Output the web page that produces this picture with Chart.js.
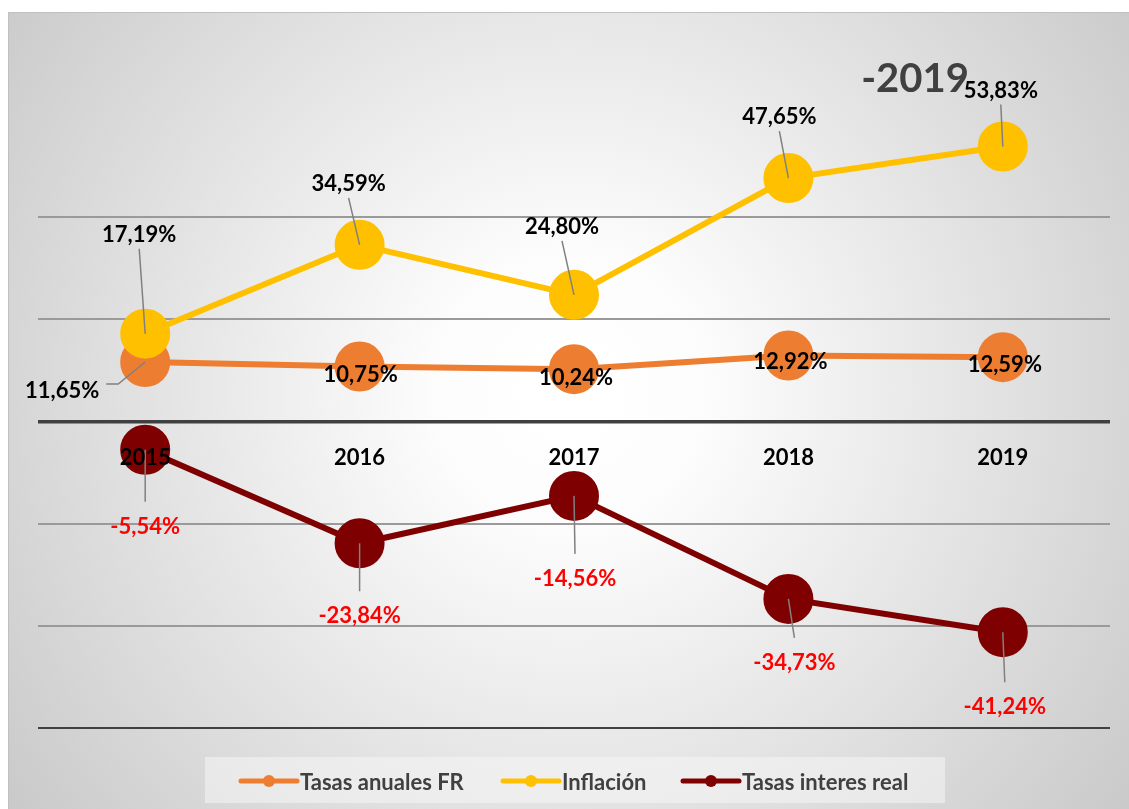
<!DOCTYPE html>
<html lang="es">
<head>
    <meta charset="UTF-8">
    <script src="https://cdn.jsdelivr.net/npm/chart.js"></script>
    <title>Tasas 2019</title>
    <style>
        body { margin: 0; background: #fff; }
        #wrap { width: 1129px; height: 809px; }
    </style>
</head>
<body>
    <div id="wrap">
        <canvas id="lineChart" width="1129" height="809"></canvas>
    </div>

    <script>
        // Datos
        const years = ['2015', '2016', '2017', '2018', '2019'];
        const tasasFR = [11.65, 10.75, 10.24, 12.92, 12.59];
        const inflacion = [17.19, 34.59, 24.80, 47.65, 53.83];
        const tasasReal = [-5.54, -23.84, -14.56, -34.73, -41.24];
        const yTicks = [-60, -40, -20, 0, 20, 40, 60];

        const FONT = 'Lato, "Open Sans", sans-serif';

        // desplazamiento de cada etiqueta respecto a su punto [dx, dy]
        const labelOffsets = {
            fr: [[-83, 29], [1, 8], [2, 9], [2, 6], [2, 8]],
            inf: [[-6, -99], [-11, -61], [-12, -68], [-9, -61], [-2, -56]],
            real: [[0, 77], [0, 73], [1, 83], [6, 64], [2, 75]]
        };

        const fmt = v => v.toFixed(2).replace('.', ',') + '%';

        const bgPlugin = {
            id: 'bg',
            beforeDraw(chart) {
                const ctx = chart.ctx;
                ctx.save();
                ctx.fillStyle = '#fff';
                ctx.fillRect(0, 0, chart.width, chart.height);
                const g = ctx.createRadialGradient(570, 390, 30, 570, 390, 760);
                g.addColorStop(0, '#ffffff');
                g.addColorStop(0.15, '#fcfcfc');
                g.addColorStop(1, '#c4c4c4');
                ctx.fillStyle = g;
                ctx.fillRect(8, 12, chart.width - 8, chart.height - 12);
                ctx.strokeStyle = '#c0c0c0';
                ctx.lineWidth = 1;
                ctx.strokeRect(8.5, 12.5, chart.width, chart.height);
                // caja de la leyenda
                ctx.fillStyle = 'rgba(245,245,245,0.55)';
                ctx.fillRect(205, 757, 740, 46);
                ctx.restore();
            }
        };

        const labelsPlugin = {
            id: 'labels',
            afterDatasetsDraw(chart) {
                const ctx = chart.ctx;
                const keys = ['fr', 'inf', 'real'];
                const colors = ['#000', '#000', '#ff0000'];
                ctx.save();
                // lineas guia
                ctx.strokeStyle = '#808080';
                ctx.lineWidth = 1.5;
                keys.forEach((k, di) => {
                    const meta = chart.getDatasetMeta(di);
                    meta.data.forEach((pt, i) => {
                        const [dx, dy] = labelOffsets[k][i];
                        const lx = pt.x + dx, ly = pt.y + dy;
                        ctx.beginPath();
                        if (k === 'inf') {
                            ctx.moveTo(lx, ly + 14);
                            ctx.lineTo(pt.x, pt.y);
                        } else if (k === 'real') {
                            ctx.moveTo(pt.x, pt.y);
                            ctx.lineTo(lx, ly - 25);
                        } else if (i === 0) {
                            ctx.moveTo(lx + 44, ly - 7);
                            ctx.lineTo(lx + 56, ly - 7);
                            ctx.lineTo(pt.x, pt.y);
                        } else {
                            return;
                        }
                        ctx.stroke();
                    });
                });
                // etiquetas de datos
                ctx.font = 'bold 22px ' + FONT;
                ctx.textAlign = 'center';
                ctx.textBaseline = 'middle';
                keys.forEach((k, di) => {
                    const meta = chart.getDatasetMeta(di);
                    const vals = chart.data.datasets[di].data;
                    ctx.fillStyle = colors[di];
                    meta.data.forEach((pt, i) => {
                        const [dx, dy] = labelOffsets[k][i];
                        ctx.fillText(fmt(vals[i]), pt.x + dx, pt.y + dy);
                    });
                });
                // etiquetas del eje x junto a la linea cero
                const xs = chart.scales.x, ys = chart.scales.y;
                const y0 = ys.getPixelForValue(0);
                ctx.fillStyle = '#000';
                years.forEach((yr, i) => {
                    ctx.fillText(yr, xs.getPixelForValue(i), y0 + 36);
                });
                // titulo
                ctx.fillStyle = '#404040';
                ctx.font = 'bold 40px ' + FONT;
                ctx.fillText('-2019', 915, 79);
                // leyenda
                const items = [
                    ['Tasas anuales FR', '#ED7D31', 241],
                    ['Inflación', '#FFC000', 503],
                    ['Tasas interes real', '#7F0000', 683]
                ];
                ctx.font = 'bold 22px ' + FONT;
                ctx.textAlign = 'left';
                items.forEach(([txt, col, x]) => {
                    ctx.strokeStyle = col;
                    ctx.lineWidth = 5;
                    ctx.lineCap = 'round';
                    ctx.beginPath();
                    ctx.moveTo(x, 781);
                    ctx.lineTo(x + 56, 781);
                    ctx.stroke();
                    ctx.fillStyle = col;
                    ctx.beginPath();
                    ctx.arc(x + 28, 781, 6, 0, Math.PI * 2);
                    ctx.fill();
                    ctx.fillStyle = '#404040';
                    ctx.fillText(txt, x + 59, 783);
                });
                ctx.restore();
            }
        };

        const pointStyle = color => ({
            borderColor: color,
            backgroundColor: color,
            pointBackgroundColor: color,
            pointBorderColor: color,
            borderWidth: 6,
            pointRadius: 22,
            pointHoverRadius: 22,
            tension: 0,
            fill: false
        });

        const config = {
            type: 'line',
            data: {
                labels: years,
                datasets: [
                    Object.assign({ label: 'Tasas anuales FR', data: tasasFR, order: 2 }, pointStyle('#ED7D31')),
                    Object.assign({ label: 'Inflación', data: inflacion, order: 1 }, pointStyle('#FFC000')),
                    Object.assign({ label: 'Tasas interes real', data: tasasReal, order: 3 }, pointStyle('#7F0000'))
                ]
            },
            options: {
                responsive: false,
                animation: false,
                events: [],
                layout: { autoPadding: false, padding: { left: 38, right: 19, top: 115, bottom: 81 } },
                plugins: {
                    legend: { display: false },
                    tooltip: { enabled: false },
                    title: { display: false }
                },
                scales: {
                    x: {
                        display: false,
                        offset: true
                    },
                    y: {
                        min: -60,
                        max: 60,
                        afterBuildTicks: axis => { axis.ticks = yTicks.map(v => ({ value: v })); },
                        ticks: { display: false },
                        border: { display: false },
                        grid: {
                            drawTicks: false,
                            color: c => c.tick.value === 60 ? 'rgba(0,0,0,0)' :
                                (c.tick.value === 0 || c.tick.value === -60) ? '#404040' : '#9a9a9a',
                            lineWidth: c => c.tick.value === 0 ? 3.5 : 2
                        }
                    }
                }
            },
            plugins: [bgPlugin, labelsPlugin]
        };

        const ctx = document.getElementById('lineChart').getContext('2d');
        new Chart(ctx, config);
    </script>
</body>
</html>
